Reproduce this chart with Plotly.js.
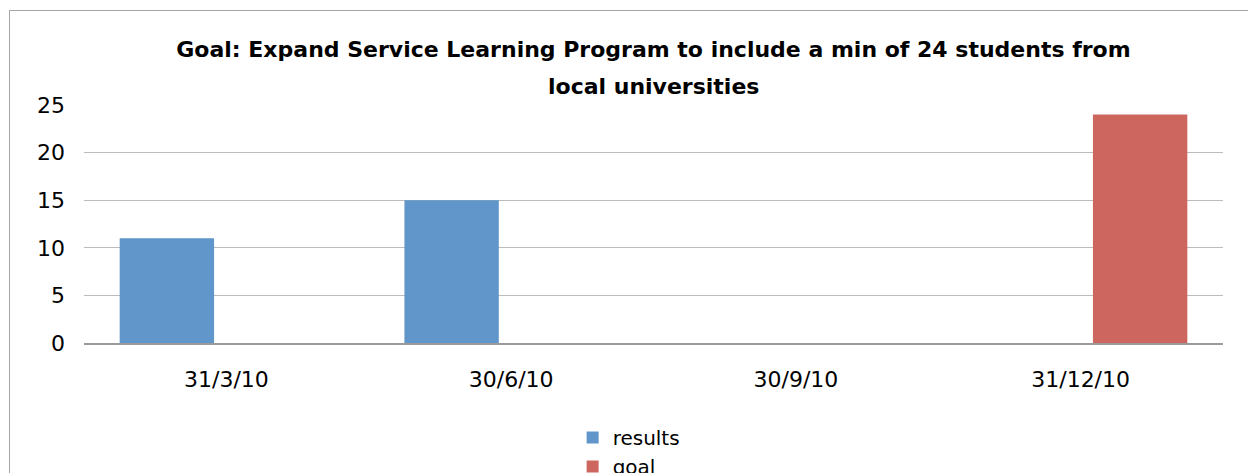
<!DOCTYPE html>
<html>
<head>
<meta charset="utf-8">
<script src="https://cdn.plot.ly/plotly-3.0.1.min.js"></script>
<style>
  html, body { margin: 0; padding: 0; background: #fff; overflow: hidden; width: 1248px; height: 473px; }
  #frame { position: absolute; left: 9px; top: 10px; width: 1300px; height: 520px;
           border-left: 1px solid #a6a6a6; border-top: 1px solid #a6a6a6; }
  #chart { position: absolute; left: 0; top: 0; width: 1248px; height: 520px; }
</style>
</head>
<body>
<div id="frame"></div>
<div id="chart"></div>
<script>
var categories = ["31/3/10", "30/6/10", "30/9/10", "31/12/10"];
var resultsValues = [11, 15, null, null];
var goalValues = [null, null, null, 24];
var yTickValues = [0, 5, 10, 15, 20, 25];
var titleLine1 = "Goal: Expand Service Learning Program to include a min of 24 students from";
var titleLine2 = "local universities";

var fontFamily = "DejaVu Sans, Verdana, sans-serif";
var titleFont = { family: fontFamily, size: 22, color: "#000", weight: "bold" };

var traces = [
  {
    type: "bar",
    name: "results",
    x: categories,
    y: resultsValues,
    marker: { color: "#6096c9" },
    hoverinfo: "x+y+name"
  },
  {
    type: "bar",
    name: "goal",
    x: categories,
    y: goalValues,
    marker: { color: "#cc665f" },
    hoverinfo: "x+y+name"
  }
];

var layout = {
  width: 1248,
  height: 520,
  paper_bgcolor: "rgba(0,0,0,0)",
  plot_bgcolor: "rgba(0,0,0,0)",
  margin: { l: 84, r: 25, t: 105, b: 177, pad: 0 },
  barmode: "group",
  bargap: 0.164,
  bargroupgap: 0.207,
  title: {
    text: titleLine1,
    font: titleFont,
    x: 0.5,
    xanchor: "center",
    xref: "paper",
    y: 1 - 49 / 520,
    yanchor: "middle"
  },
  annotations: [
    {
      text: titleLine2,
      font: titleFont,
      xref: "paper",
      yref: "paper",
      x: 0.5,
      xanchor: "center",
      y: (343 - 86) / 238,
      yanchor: "middle",
      showarrow: false
    }
  ],
  font: { family: fontFamily, size: 22, color: "#000" },
  xaxis: {
    type: "category",
    showgrid: false,
    showline: true,
    linecolor: "#9a9a9a",
    linewidth: 1.5,
    ticks: "",
    tickfont: { family: fontFamily, size: 22, color: "#000" },
    ticklabelstandoff: 16,
    zeroline: false,
    fixedrange: true
  },
  yaxis: {
    range: [0, 25],
    tickvals: yTickValues,
    showgrid: true,
    gridcolor: "#bcbcbc",
    gridwidth: 1.2,
    showline: false,
    zeroline: false,
    ticks: "",
    tickfont: { family: fontFamily, size: 22, color: "#000" },
    ticklabelstandoff: 18,
    fixedrange: true
  },
  showlegend: true,
  legend: {
    orientation: "v",
    x: 0.429,
    xanchor: "left",
    y: -0.315,
    yanchor: "top",
    font: { family: fontFamily, size: 20, color: "#000" },
    tracegroupgap: 0,
    itemwidth: 30,
    bgcolor: "rgba(0,0,0,0)"
  }
};

Plotly.newPlot("chart", traces, layout, { displayModeBar: false, staticPlot: true });
</script>
</body>
</html>
